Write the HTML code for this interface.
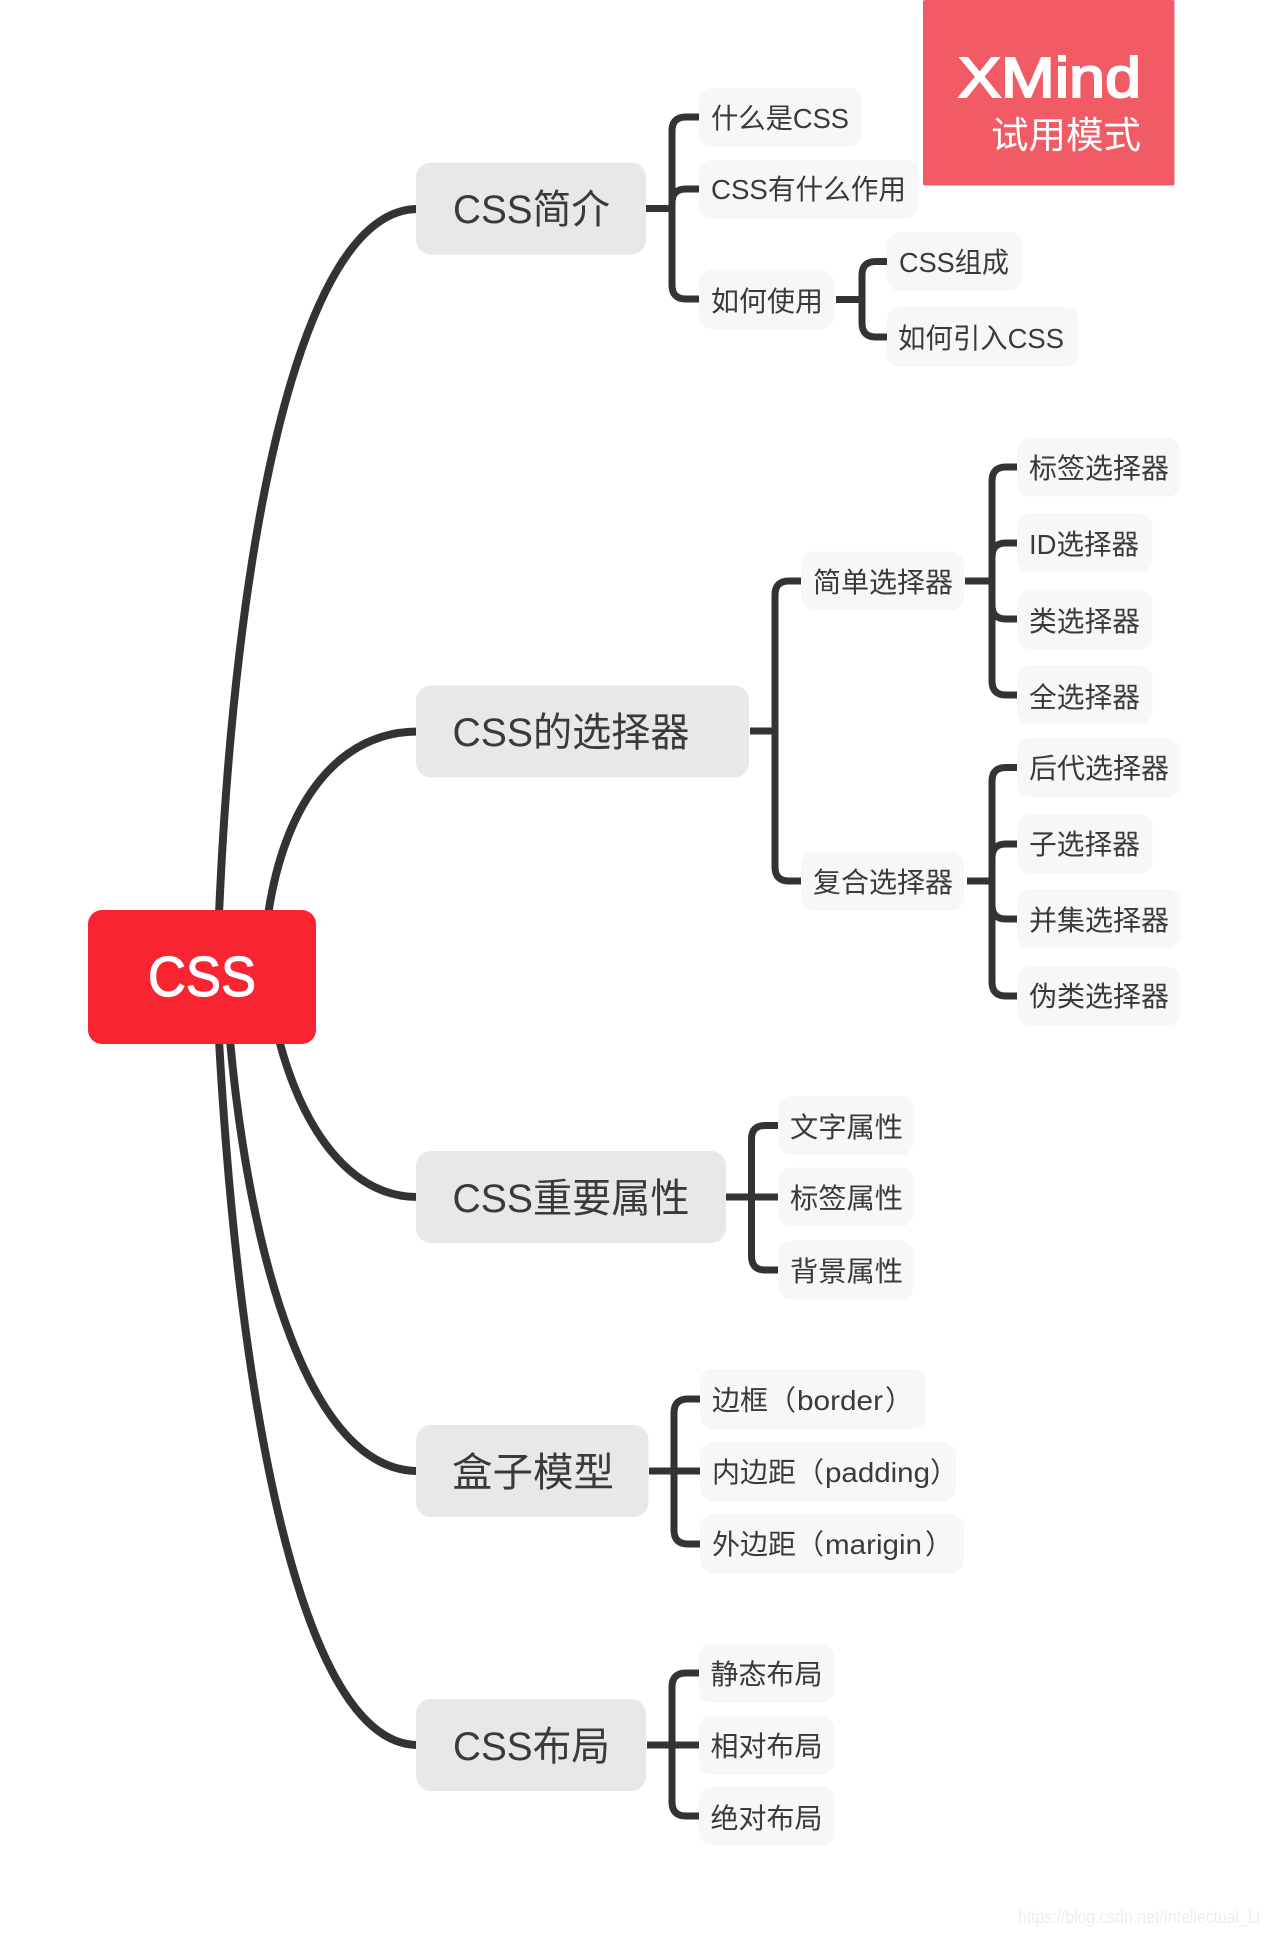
<!DOCTYPE html>
<html><head><meta charset="utf-8"><style>
html,body{margin:0;padding:0;background:#fff;width:1269px;height:1935px;overflow:hidden}
svg{display:block}
text{font-family:"Liberation Sans","Noto Sans CJK SC",sans-serif;fill:#3a3a3a}
.t{font-size:28px}.m{font-size:40px}
.b2{fill:#f7f7f7}.b1{fill:#e8e8e8}
.c{fill:none;stroke:#333;stroke-width:8}
.k{fill:none;stroke:#333;stroke-width:7}
</style></head><body>
<svg width="1269" height="1935" viewBox="0 0 1269 1935" xmlns="http://www.w3.org/2000/svg">
<!-- main curves -->
<path class="c" d="M219 915C234 560 296 209 418 209"/>
<path class="c" d="M268 915C285 800 340 731.500 418 731.500"/>
<path class="c" d="M279 1040C303 1130 350 1197 418 1197"/>
<path class="c" d="M230 1040C250 1260 310 1471 418 1471"/>
<path class="c" d="M219 1040C239 1400 300 1745 418 1745"/>
<!-- brackets -->
<path class="k" d="M646 208.500H672M699 117H686Q672 117 672 131V285Q672 299 686 299H699M699 189H686Q672 189 672 203"/>
<path class="k" d="M836 299.500H862M887 261.500H876Q862 261.500 862 275V323Q862 337 876 337H887"/>
<path class="k" d="M750 731H775M801 581H789Q775 581 775 595V867Q775 881 789 881H801"/>
<path class="k" d="M965 581H992M1017 467H1006Q992 467 992 481V681Q992 695 1006 695H1017M1017 543H1006Q992 543 992 557V576M1017 619H1006Q992 619 992 605V586"/>
<path class="k" d="M967 881H992M1017 767.500H1006Q992 767.500 992 781V982Q992 996 1006 996H1017M1017 844H1006Q992 844 992 858V876M1017 919H1006Q992 919 992 905V886"/>
<path class="k" d="M726 1197H778M778 1125.500H765Q751.500 1125.500 751.500 1139V1256Q751.500 1270 765 1270H778"/>
<path class="k" d="M649 1471H700M700 1399H688Q674 1399 674 1413V1530Q674 1544 688 1544H700"/>
<path class="k" d="M647 1745H699M699 1673H686Q672 1673 672 1687V1802Q672 1816 686 1816H699"/>
<!-- root -->
<rect x="88" y="910" width="228" height="134" rx="14" fill="#f92431"/>
<text x="148" y="996" font-size="57" textLength="108" lengthAdjust="spacingAndGlyphs" style="fill:#fff;stroke:#fff;stroke-width:1.2">CSS</text>
<!-- level 1 -->
<rect class="b1" x="416" y="162.500" width="230" height="92" rx="15"/>
<text class="m" x="453" y="223" textLength="157" lengthAdjust="spacingAndGlyphs">CSS简介</text>
<rect class="b1" x="416" y="685.500" width="333" height="92" rx="15"/>
<text class="m" x="452.500" y="746" textLength="237" lengthAdjust="spacingAndGlyphs">CSS的选择器</text>
<rect class="b1" x="416" y="1151" width="310" height="92" rx="15"/>
<text class="m" x="452.500" y="1212" textLength="237" lengthAdjust="spacingAndGlyphs">CSS重要属性</text>
<rect class="b1" x="416" y="1425" width="232.500" height="92" rx="15"/>
<text class="m" x="452" y="1486" textLength="162" lengthAdjust="spacingAndGlyphs">盒子模型</text>
<rect class="b1" x="416" y="1699" width="230" height="92" rx="15"/>
<text class="m" x="453" y="1760" textLength="157" lengthAdjust="spacingAndGlyphs">CSS布局</text>
<!-- 简介 children -->
<rect class="b2" x="699" y="88" width="163" height="59" rx="13"/>
<text class="t" x="711" y="128" textLength="138" lengthAdjust="spacingAndGlyphs">什么是CSS</text>
<rect class="b2" x="699" y="160" width="219.500" height="59" rx="13"/>
<text class="t" x="711" y="199" textLength="195" lengthAdjust="spacingAndGlyphs">CSS有什么作用</text>
<rect class="b2" x="699" y="270" width="135" height="59" rx="13"/>
<text class="t" x="711" y="311" textLength="112" lengthAdjust="spacingAndGlyphs">如何使用</text>
<rect class="b2" x="887" y="232" width="135.500" height="59" rx="13"/>
<text class="t" x="899" y="272" textLength="110" lengthAdjust="spacingAndGlyphs">CSS组成</text>
<rect class="b2" x="887" y="307" width="191.500" height="60" rx="13"/>
<text class="t" x="898" y="348" textLength="166" lengthAdjust="spacingAndGlyphs">如何引入CSS</text>
<!-- selectors -->
<rect class="b2" x="801" y="551.500" width="163" height="59" rx="13"/>
<text class="t" x="813" y="592" textLength="140" lengthAdjust="spacingAndGlyphs">简单选择器</text>
<rect class="b2" x="801" y="851.500" width="163" height="59" rx="13"/>
<text class="t" x="813" y="892" textLength="140" lengthAdjust="spacingAndGlyphs">复合选择器</text>
<rect class="b2" x="1017" y="437.500" width="163.500" height="59" rx="13"/>
<text class="t" x="1029" y="478" textLength="140" lengthAdjust="spacingAndGlyphs">标签选择器</text>
<rect class="b2" x="1017" y="513.500" width="135.500" height="59" rx="13"/>
<text class="t" x="1029" y="554" textLength="110" lengthAdjust="spacingAndGlyphs">ID选择器</text>
<rect class="b2" x="1017" y="590" width="135.500" height="59" rx="13"/>
<text class="t" x="1029" y="631" textLength="111" lengthAdjust="spacingAndGlyphs">类选择器</text>
<rect class="b2" x="1017" y="665.500" width="135.500" height="59" rx="13"/>
<text class="t" x="1029" y="707" textLength="111" lengthAdjust="spacingAndGlyphs">全选择器</text>
<rect class="b2" x="1017" y="738" width="163.500" height="59" rx="13"/>
<text class="t" x="1029" y="778" textLength="140" lengthAdjust="spacingAndGlyphs">后代选择器</text>
<rect class="b2" x="1017" y="814.500" width="135.500" height="59" rx="13"/>
<text class="t" x="1029" y="854" textLength="111" lengthAdjust="spacingAndGlyphs">子选择器</text>
<rect class="b2" x="1017" y="889.500" width="163.500" height="59" rx="13"/>
<text class="t" x="1029" y="930" textLength="140" lengthAdjust="spacingAndGlyphs">并集选择器</text>
<rect class="b2" x="1017" y="966.500" width="163.500" height="59" rx="13"/>
<text class="t" x="1029" y="1006" textLength="140" lengthAdjust="spacingAndGlyphs">伪类选择器</text>
<!-- important -->
<rect class="b2" x="778.500" y="1096" width="135" height="59" rx="13"/>
<text class="t" x="790" y="1137" textLength="113" lengthAdjust="spacingAndGlyphs">文字属性</text>
<rect class="b2" x="778.500" y="1167.500" width="135" height="59" rx="13"/>
<text class="t" x="790" y="1208" textLength="113" lengthAdjust="spacingAndGlyphs">标签属性</text>
<rect class="b2" x="778.500" y="1240.500" width="135" height="59" rx="13"/>
<text class="t" x="790" y="1281" textLength="113" lengthAdjust="spacingAndGlyphs">背景属性</text>
<!-- box model -->
<rect class="b2" x="700" y="1369" width="226" height="60" rx="13"/>
<text class="t" x="712" y="1410">边框（</text>
<text class="t" x="797" y="1410" textLength="86" lengthAdjust="spacingAndGlyphs">border</text>
<text class="t" x="885" y="1410">）</text>
<rect class="b2" x="700" y="1442" width="256" height="59" rx="13"/>
<text class="t" x="712" y="1482">内边距（</text>
<text class="t" x="825" y="1482" textLength="105" lengthAdjust="spacingAndGlyphs">padding</text>
<text class="t" x="930" y="1482">）</text>
<rect class="b2" x="700" y="1514" width="264" height="59" rx="13"/>
<text class="t" x="712" y="1554">外边距（</text>
<text class="t" x="825" y="1554" textLength="97" lengthAdjust="spacingAndGlyphs">marigin</text>
<text class="t" x="925" y="1554">）</text>
<!-- layout -->
<rect class="b2" x="699" y="1643.500" width="135.500" height="59" rx="13"/>
<text class="t" x="710.500" y="1684" textLength="112" lengthAdjust="spacingAndGlyphs">静态布局</text>
<rect class="b2" x="699" y="1715.500" width="135.500" height="59" rx="13"/>
<text class="t" x="710.500" y="1756" textLength="112" lengthAdjust="spacingAndGlyphs">相对布局</text>
<rect class="b2" x="699" y="1786.500" width="135.500" height="59" rx="13"/>
<text class="t" x="710.500" y="1828" textLength="112" lengthAdjust="spacingAndGlyphs">绝对布局</text>
<!-- XMind badge -->
<rect x="923" y="0" width="251.500" height="185.500" rx="2" fill="#f15b66"/>
<text x="958" y="97" font-size="57" textLength="183" lengthAdjust="spacingAndGlyphs" style="fill:#fff;stroke:#fff;stroke-width:2">XMind</text>
<text x="991" y="148" font-size="37" textLength="150" lengthAdjust="spacingAndGlyphs" style="fill:#fff">试用模式</text>
<!-- watermark -->
<text x="1018" y="1923" font-size="18" textLength="242" lengthAdjust="spacingAndGlyphs" style="fill:#eeeeee">https://blog.csdn.net/Intellectual_Li</text>
</svg>
</body></html>
